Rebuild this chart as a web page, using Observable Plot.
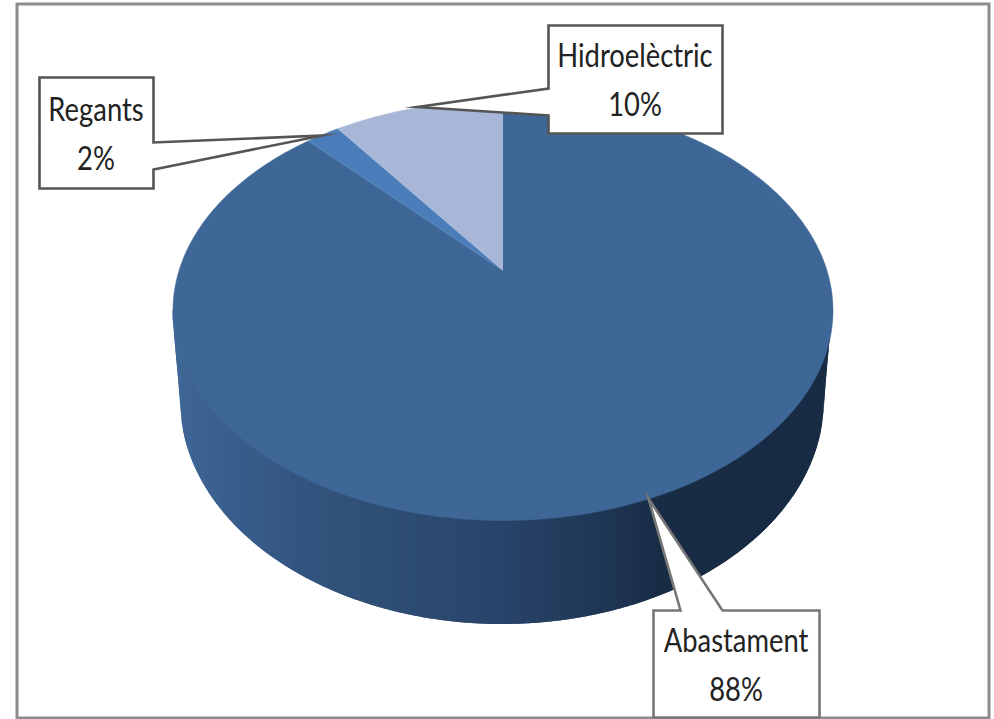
<!DOCTYPE html>
<html>
<head>
<meta charset="utf-8">
<style>html,body{margin:0;padding:0;background:#fff;overflow:hidden}svg{display:block}</style>
<script src="https://cdn.jsdelivr.net/npm/d3@7"></script>
<script src="https://cdn.jsdelivr.net/npm/@observablehq/plot@0.6"></script>
</head>
<body>
<script>
// Data
const categories = ["Abastament", "Regants", "Hidroelèctric"];
const shares = [88, 2, 10];
const sliceColors = ["#3e6797", "#4a7db9", "#a8b7d8"];

// Look of the tilted disc (page pixels)
const disc = {cx: 502.5, cy: 310, a: 330, b: 210, perspective: 0.19};
const base = {cx: 502, cy: 400, a: 322, b: 224};
const sideStops = [[173,"#3f6797"],[300,"#33547f"],[400,"#2e4d73"],[500,"#28436a"],[600,"#1f3755"],[660,"#182c45"],[832,"#182b44"]];

// Callouts (page pixels)
const callouts = [
  {name:"Regants", x1:39, x2:153, y1:77, y2:188, side:"right", t1:142, t2:169, tip:[322,135], stroke:"#555"},
  {name:"Hidroelèctric", x1:548, x2:722, y1:25, y2:133, side:"left", t1:88, t2:115, tip:[417,106.5], stroke:"#555"},
  {name:"Abastament", x1:653, x2:819, y1:610, y2:717, side:"top", t1:680, t2:722, tip:[648,498], stroke:"#777"}
];

// Projects a true circle angle (clockwise from the top) on to the tilted ellipse
function project(theta) {
  const k = disc.perspective, xp = Math.sin(theta), yp = Math.cos(theta);
  const d = 1 + k * yp;
  const y = (yp + k) / d, x = xp * Math.sqrt(1 - k * k) / d;
  return [disc.cx + disc.a * x, disc.cy - disc.b * y];
}
const apex = [disc.cx, disc.cy - disc.b * disc.perspective];
const arcs = d3.pie().sort(null)(shares);
const slices = arcs.flatMap((arc, i) => {
  const n = Math.max(8, Math.round((arc.endAngle - arc.startAngle) * 100));
  const pts = d3.range(n + 1).map(j => project(arc.startAngle + (arc.endAngle - arc.startAngle) * j / n));
  return [apex, ...pts].map(([x, y]) => ({name: categories[i], x, y, color: sliceColors[i]}));
});

// Side wall of the disc, shaded by narrow overlapping strips
const sideColor = d3.scaleLinear().domain(sideStops.map(d => d[0])).range(sideStops.map(d => d[1]));
function wallBottom(x) {
  const dx = Math.abs(x - base.cx);
  if (dx <= base.a) return base.cy + base.b * Math.sqrt(1 - (dx / base.a) ** 2);
  const t = (dx - base.a) / (disc.a - base.a);
  return base.cy + (disc.cy + 2 - base.cy) * Math.min(1, t);
}
const left = disc.cx - disc.a, right = disc.cx + disc.a;
const wall = d3.range(left, right, 1.5).flatMap((x, i) => {
  const x2 = Math.min(x + 3, right);
  return [x, x2].map(xx => ({id: i, x: xx, y1: disc.cy, y2: wallBottom(xx), color: sideColor(x)}));
});

function outline(c) {
  const {x1, x2, y1, y2, t1, t2, tip, side} = c;
  let p;
  if (side === "right") p = [[x1,y1],[x2,y1],[x2,t1],tip,[x2,t2],[x2,y2],[x1,y2]];
  else if (side === "left") p = [[x1,y1],[x2,y1],[x2,y2],[x1,y2],[x1,t2],tip,[x1,t1]];
  else p = [[x1,y1],[t1,y1],tip,[t2,y1],[x2,y1],[x2,y2],[x1,y2]];
  return [...p, p[0], p[1]].map(([x, y]) => ({name: c.name, x, y, stroke: c.stroke}));
}
const labels = callouts.map(c => ({
  x: (c.x1 + c.x2) / 2 - 0.5, y: c.y1 + (c.y2 - c.y1) / 2 - 3.5,
  text: `${c.name}\n${shares[categories.indexOf(c.name)]}%`
}));

// Calibri-like text: Lato narrowed horizontally
const narrowText = {
  render(index, scales, values, dimensions, context, next) {
    const g = next(index, scales, values, dimensions, context);
    g.querySelectorAll("text").forEach(t => t.setAttribute("transform", (t.getAttribute("transform") || "") + " scale(0.83,1)"));
    return g;
  }
};

const chart = Plot.plot({
  width: 994, height: 719,
  margin: 0,
  x: {domain: [0, 994], range: [0, 994], axis: null},
  y: {domain: [0, 719], range: [0, 719], axis: null},
  color: {type: "identity"},
  style: {background: "#fff"},
  marks: [
    Plot.rect([{x1: 17, x2: 989, y1: 4, y2: 718}], {x1: "x1", x2: "x2", y1: "y1", y2: "y2", fill: "#fff", stroke: "#8c8c8c", strokeWidth: 3}),
    Plot.areaY(wall, {x: "x", y1: "y1", y2: "y2", z: "id", fill: "color"}),
    Plot.line(slices, {x: "x", y: "y", z: "name", fill: "color", stroke: "color", strokeWidth: 0.5}),
    Plot.line(callouts.flatMap(outline), {x: "x", y: "y", z: "name", fill: "#fff", stroke: "stroke", strokeWidth: 2.6, strokeLinejoin: "miter", strokeMiterlimit: 20, curve: "linear"}),
    Plot.text(labels, {x: "x", y: "y", text: "text", fontSize: 33, lineHeight: 1.48, fontFamily: "Lato, 'Open Sans', sans-serif", fill: "#222", textAnchor: "middle", ...narrowText})
  ]
});
document.body.appendChild(chart);
</script>
</body>
</html>
